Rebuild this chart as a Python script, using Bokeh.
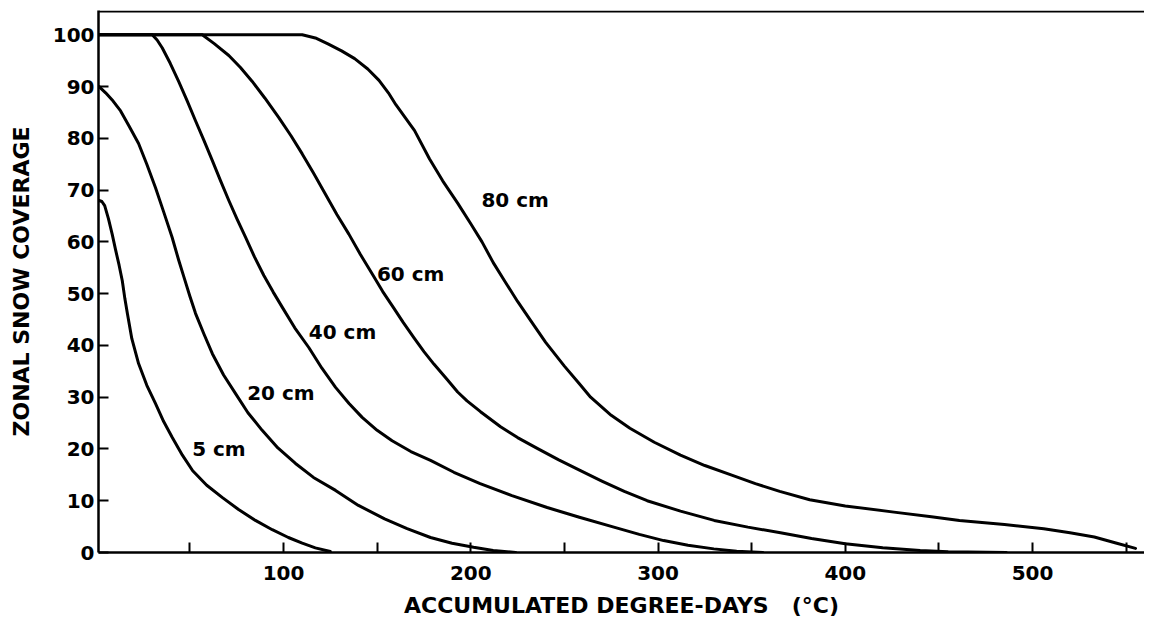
from bokeh.plotting import figure
from bokeh.models import FixedTicker, Range1d, Span, ColumnDataSource
from bokeh.core.properties import value
from bokeh.embed import file_html
from bokeh.resources import INLINE

# ---- data ----
x_5 = [1.5, 3, 4.5, 6.5, 8.5, 10.3, 12.2, 13.9, 15.3, 16.7, 19, 22.6, 27, 31.6, 36, 40.6, 46,
       51.5, 59, 67.4, 76, 85, 94, 102.6, 110, 117, 125]
y_5 = [68, 67.8, 67, 64.5, 61.5, 58.5, 55.5, 52.5, 49, 46, 41.3, 36.5, 32.3, 28.8, 25.3, 22.2, 18.8,
       15.8, 13, 10.6, 8.3, 6.2, 4.4, 2.9, 1.8, 0.9, 0.2]

x_20 = [1.5, 5, 9, 13, 17.5, 22.6, 27, 31.6, 36, 40.5, 44, 47, 50, 53, 57.5, 62, 68, 74.4, 81,
        88.6, 97, 106.4, 116, 127.8, 140, 154, 166, 178.5, 190, 201.5, 212, 224]
y_20 = [90, 88.8, 87.2, 85.3, 82.4, 79, 75, 70.5, 65.8, 60.9, 56.5, 53, 49.5, 46.2, 42.2, 38.4, 34.3,
        30.7, 27, 23.6, 20.2, 17.2, 14.5, 12, 9.1, 6.5, 4.6, 2.9, 1.8, 1, 0.4, 0]

x_40 = [1.5, 29.9, 32.5, 35.2, 39.5, 44, 48.5, 53, 57.5, 62, 66.4, 70.8, 75.2, 79.7, 84.5, 89.5,
        94.5, 99.3, 106, 113.5, 120.5, 127.8, 135, 142, 150, 158, 168, 178.5, 191, 205, 222, 240.8,
        258, 276.4, 290, 303, 316, 329.8, 342, 356]
y_40 = [100, 100, 99, 97.5, 94.5, 91, 87.3, 83.4, 79.6, 75.7, 71.8, 68, 64.4, 60.9, 57.1, 53.5,
        50.3, 47.4, 43.4, 39.6, 35.6, 31.9, 28.8, 26.1, 23.6, 21.6, 19.5, 17.8, 15.5, 13.3, 11, 8.7,
        6.8, 4.9, 3.5, 2.3, 1.4, 0.7, 0.25, 0]

x_60 = [1.5, 56.6, 63, 70.8, 77, 83.3, 90, 97.5, 104, 110, 116, 122.4, 128.5, 134.9, 141, 147.4,
        153, 158.9, 164, 169.6, 175, 180.3, 187.4, 193, 198, 205.2, 215.9, 225, 235, 247, 258.6,
        270, 282, 294.2, 312, 330, 348, 365.4, 382, 400, 420, 440, 455, 486]
y_60 = [100, 100, 98.3, 96, 93.7, 91, 87.8, 84, 80.5, 77, 73.3, 69.2, 65.3, 61.5, 57.6, 53.8,
        50.4, 47.2, 44.4, 41.5, 38.8, 36.4, 33.4, 31, 29.3, 27.2, 24.3, 22.2, 20.2, 17.9, 15.8,
        13.8, 11.8, 10, 8, 6.2, 4.9, 3.8, 2.7, 1.7, 0.9, 0.4, 0.15, 0]

x_80 = [1.5, 110, 117, 124, 131, 138, 145, 151, 156, 160, 165, 170, 178, 185, 193, 200, 206,
        212, 218, 225, 232, 240, 250, 258, 264, 275, 285, 298, 312, 325, 339, 352, 365, 381,
        400, 426, 446, 461, 485, 506, 520, 533, 545, 555]
y_80 = [100, 100, 99.4, 98.2, 96.9, 95.4, 93.4, 91.2, 88.8, 86.5, 84, 81.5, 76, 71.8, 67.5, 63.5,
        60, 56, 52.5, 48.5, 44.8, 40.6, 36, 32.6, 30, 26.5, 24, 21.3, 18.8, 16.8, 15, 13.3, 11.8,
        10.2, 9, 7.8, 6.9, 6.2, 5.4, 4.6, 3.8, 3, 1.8, 0.8]

label_text = ["5 cm", "20 cm", "40 cm", "60 cm", "80 cm"]
label_x = [51.2, 80.6, 113.5, 149.9, 205.7]
label_y = [20, 30.9, 42.5, 53.8, 68.1]

x_ticks = [100, 200, 300, 400, 500]
x_minor_ticks = [50, 150, 250, 350, 450, 550]
y_ticks = [0, 10, 20, 30, 40, 50, 60, 70, 80, 90, 100]

FONT = "DejaVu Sans"

p = figure(width=1144, height=620, output_backend="svg", toolbar_location=None,
           x_range=Range1d(1.2, 559.8), y_range=Range1d(0, 104.7),
           min_border_left=98, min_border_right=0, min_border_top=10, min_border_bottom=0)
p.outline_line_color = None
p.grid.grid_line_color = None
p.background_fill_color = "white"
p.border_fill_color = "white"

for xs, ys in [(x_5, y_5), (x_20, y_20), (x_40, y_40), (x_60, y_60), (x_80, y_80)]:
    p.line(xs, ys, line_color="black", line_width=3, line_join="round", line_cap="round")

src = ColumnDataSource(dict(x=label_x, y=label_y, t=label_text))
p.text(x="x", y="y", text="t", source=src, text_font=value(FONT), text_font_style="bold",
       text_font_size="20px", text_baseline="middle", text_align="left", text_color="black")

top = Span(location=104.5, dimension="width", line_color="black", line_width=2)
p.add_layout(top)

xa = p.xaxis[0]
xa.ticker = FixedTicker(ticks=x_ticks, minor_ticks=x_minor_ticks)
xa.axis_label = "ACCUMULATED DEGREE-DAYS\u00a0\u00a0\u00a0(°C)"
ya = p.yaxis[0]
ya.ticker = FixedTicker(ticks=y_ticks, minor_ticks=[])
ya.axis_label = "ZONAL SNOW COVERAGE"

for ax in (xa, ya):
    ax.axis_line_color = "black"
    ax.axis_line_width = 2.5
    ax.major_tick_in = 10
    ax.major_tick_out = 0
    ax.minor_tick_in = 10
    ax.minor_tick_out = 0
    ax.major_tick_line_width = 2
    ax.minor_tick_line_width = 2
    ax.major_tick_line_color = "black"
    ax.minor_tick_line_color = "black"
    ax.major_label_text_font = FONT
    ax.major_label_text_font_style = "bold"
    ax.major_label_text_font_size = "20px"
    ax.major_label_text_color = "black"
    ax.axis_label_text_font = FONT
    ax.axis_label_text_font_style = "bold"
    ax.axis_label_text_font_size = "22px"
    ax.axis_label_text_color = "black"

xa.major_label_standoff = 13
xa.axis_label_standoff = 10
ya.major_label_standoff = 4
ya.axis_label_standoff = 16

open("out.html", "w").write(file_html(p, INLINE))
